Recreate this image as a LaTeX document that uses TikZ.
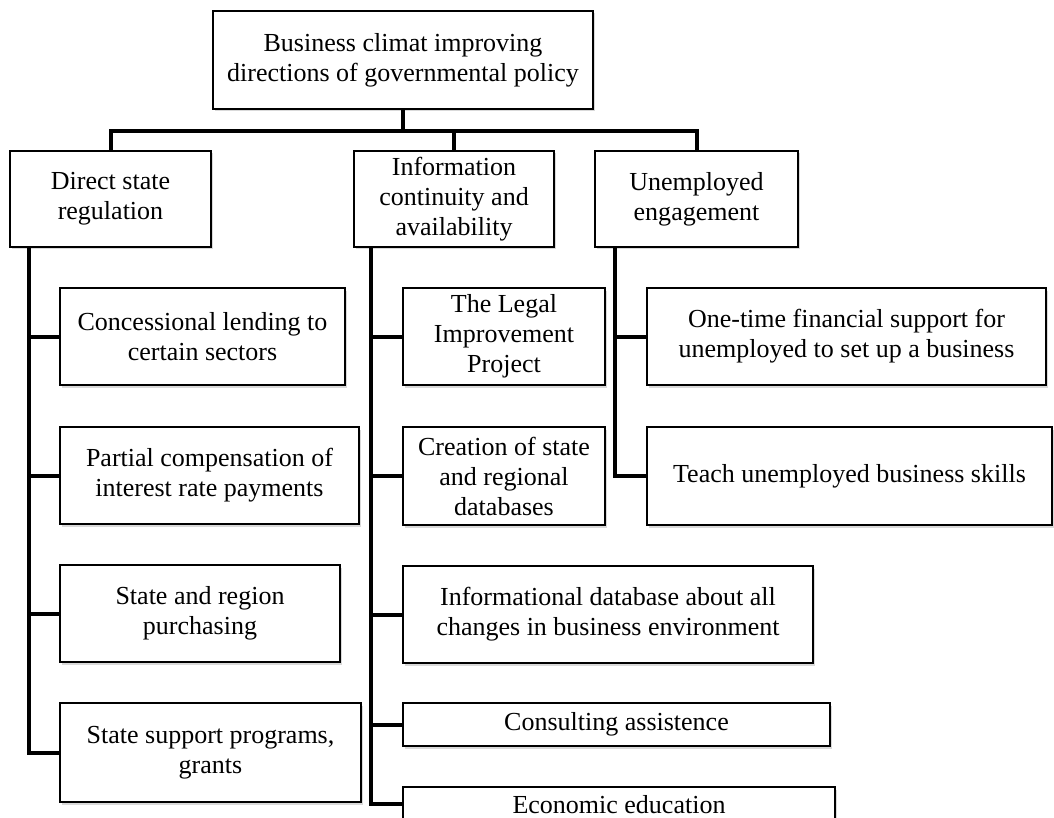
\documentclass[tikz,border=0pt]{standalone}
\usepackage{fontspec}
\setmainfont{Liberation Serif}
\usetikzlibrary{shadows}
\begin{document}
\begin{tikzpicture}[x=1pt,y=-1pt,
  box/.style={draw, line width=1.8pt, fill=white, align=center, inner sep=0pt,
    font=\fontsize{26}{30}\selectfont,
    drop shadow={opacity=0.3, shadow xshift=1.5pt, shadow yshift=-2.5pt}},
  link/.style={line width=4pt}]
\useasboundingbox (0,0) rectangle (1054,818);
\node[box, minimum width=380, minimum height=98] (0) at (403,60) {Business climat improving\\directions of governmental policy};
\node[box, minimum width=201, minimum height=96] (1) at (110.5,199) {Direct state\\regulation};
\node[box, minimum width=200, minimum height=96] (2) at (454,199) {Information\\continuity and\\availability};
\node[box, minimum width=203, minimum height=96] (3) at (696.5,199) {Unemployed\\engagement};
\node[box, minimum width=285, minimum height=97] (11) at (202.5,336.5) {Concessional lending to\\certain sectors};
\node[box, minimum width=299, minimum height=97] (12) at (209.5,475.5) {Partial compensation of\\interest rate payments};
\node[box, minimum width=280, minimum height=97] (13) at (200,613.5) {State and region\\purchasing};
\node[box, minimum width=301, minimum height=99] (14) at (210.5,752.5) {State support programs,\\grants};
\node[box, minimum width=202, minimum height=97] (21) at (504,336.5) {The Legal\\Improvement\\Project};
\node[box, minimum width=202, minimum height=98] (22) at (504,476) {Creation of state\\and regional\\databases};
\node[box, minimum width=410, minimum height=97] (23) at (608,614.5) {Informational database about all\\changes in business environment};
\node[box, minimum width=427, minimum height=43] (24) at (616.5,724.5) {Consulting assistence};
\node[box, minimum width=432, minimum height=34, text depth=0pt] (25) at (619,804) {Economic education};
\node[box, minimum width=399, minimum height=97] (31) at (846.5,336.5) {One-time financial support for\\unemployed to set up a business};
\node[box, minimum width=405, minimum height=98] (32) at (849.5,476) {Teach unemployed business skills};
\coordinate (bar) at (0,131);
\coordinate (t1) at ([xshift=20pt]1.south west);
\coordinate (t2) at ([xshift=18pt]2.south west);
\coordinate (t3) at ([xshift=21pt]3.south west);
\path[draw,link] (0.south) -- (0.south |- bar);
\path[draw,link] (1.north) -- (1.north |- bar) -- (3.north |- bar) -- (3.north);
\path[draw,link] (2.north) -- (2.north |- bar);
\path[draw,link] (t1) |- (14.west);
\path[draw,link] (t1 |- 11.west) -- (11.west);
\path[draw,link] (t1 |- 12.west) -- (12.west);
\path[draw,link] (t1 |- 13.west) -- (13.west);
\path[draw,link] (t2) |- (25.west);
\path[draw,link] (t2 |- 21.west) -- (21.west);
\path[draw,link] (t2 |- 22.west) -- (22.west);
\path[draw,link] (t2 |- 23.west) -- (23.west);
\path[draw,link] (t2 |- 24.west) -- (24.west);
\path[draw,link] (t3) |- (32.west);
\path[draw,link] (t3 |- 31.west) -- (31.west);
\end{tikzpicture}
\end{document}
